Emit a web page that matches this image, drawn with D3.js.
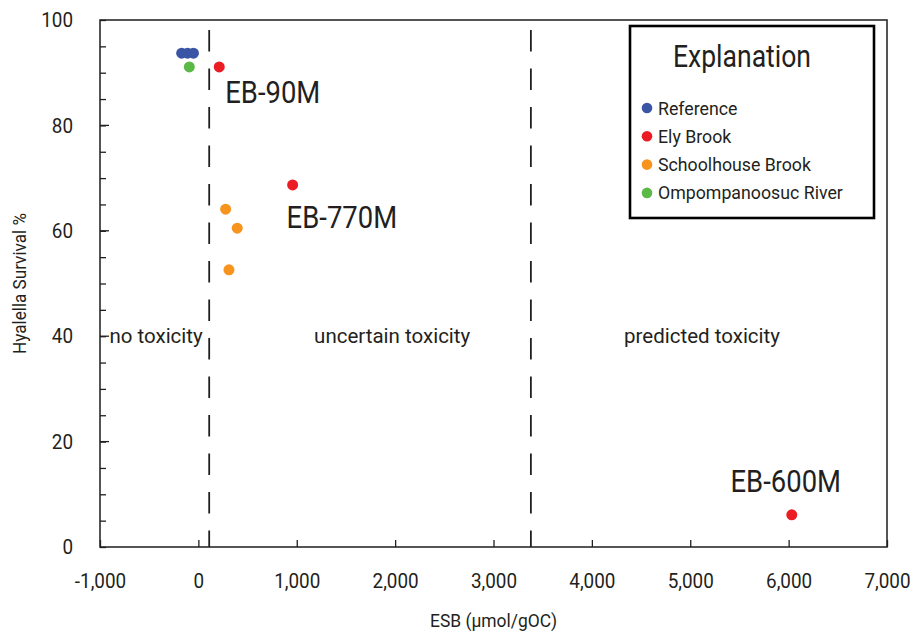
<!DOCTYPE html>
<html>
<head>
<meta charset="utf-8">
<script src="https://cdn.jsdelivr.net/npm/d3@7/dist/d3.min.js"></script>
<style>
  html, body { margin: 0; padding: 0; background: #fff; }
  svg { display: block; }
  text { font-family: "Roboto", "Liberation Sans", sans-serif; fill: #231f20; }
</style>
</head>
<body>
<svg id="chart" width="914" height="635"></svg>
<script>
// Sample groups and their colours
const seriesNames = ["Reference", "Ely Brook", "Schoolhouse Brook", "Ompompanoosuc River"];
const seriesColors = ["#3b55a6", "#ec1c24", "#f7941d", "#5bb947"];

// ESB (µmol/gOC) and Hyalella survival (%) per group
const referenceESB = [-170, -110, -50];
const referenceSurvival = [93.7, 93.7, 93.7];
const elyBrookESB = [212, 958, 6032];
const elyBrookSurvival = [91.1, 68.7, 6.1];
const schoolhouseESB = [277, 395, 311];
const schoolhouseSurvival = [64.1, 60.5, 52.6];
const ompompanoosucESB = [-92];
const ompompanoosucSurvival = [91.1];

// Ely Brook site names
const elySiteNames = ["EB-90M", "EB-770M", "EB-600M"];

// Toxicity thresholds and zone labels
const thresholdESB = [110, 3380];
const zoneNames = ["no toxicity", "uncertain toxicity", "predicted toxicity"];
const zoneESB = [-430, 1970, 5120];
const zoneSurvival = 40;

// Axis ticks
const xTickValues = [-1000, 0, 1000, 2000, 3000, 4000, 5000, 6000, 7000];
const yTickValues = [0, 20, 40, 60, 80, 100];
const yMinorTickValues = d3.range(0, 101, 5);

const svg = d3.select("#chart");
const margin = { left: 100, top: 20, right: 27, bottom: 88 };
const W = 914, H = 635;

const x = d3.scaleLinear().domain([-1000, 7000]).range([margin.left, W - margin.right]);
const y = d3.scaleLinear().domain([0, 100]).range([H - margin.bottom, margin.top]);

// Thousands separator with a plain hyphen for negatives
const commaFormat = d3.format(",");
const xTickFormat = d => commaFormat(d).replace("\u2212", "-");

// Narrow the glyphs horizontally around each text's own anchor point
function condense(sel, sx) {
  sel.attr("transform", function () {
    const tx = +this.getAttribute("x") || 0, ty = +this.getAttribute("y") || 0;
    return `translate(${tx},${ty}) scale(${sx},1) translate(${-tx},${-ty})`;
  });
}

const groups = [
  { esb: referenceESB, surv: referenceSurvival },
  { esb: elyBrookESB, surv: elyBrookSurvival },
  { esb: schoolhouseESB, surv: schoolhouseSurvival },
  { esb: ompompanoosucESB, surv: ompompanoosucSurvival }
];
const points = [];
groups.forEach((g, i) => g.esb.forEach((v, j) => points.push({ esb: v, surv: g.surv[j], series: i })));

// Plot frame
svg.append("rect")
  .attr("x", x(-1000)).attr("y", y(100))
  .attr("width", x(7000) - x(-1000)).attr("height", y(0) - y(100))
  .attr("fill", "none").attr("stroke", "#2b2b2b").attr("stroke-width", 1.6);

// Axes with inward ticks
const xAxis = svg.append("g")
  .attr("transform", `translate(0,${y(0)})`)
  .call(d3.axisBottom(x).tickValues(xTickValues).tickSize(-7).tickPadding(26)
    .tickFormat(xTickFormat));
xAxis.select(".domain").remove();
xAxis.selectAll("line").attr("stroke", "#231f20").attr("stroke-width", 1.3);
xAxis.selectAll("text").attr("font-size", 21).attr("fill", "#231f20").call(condense, 0.9);

const yMinor = svg.append("g")
  .attr("transform", `translate(${x(-1000)},0)`)
  .call(d3.axisRight(y).tickValues(yMinorTickValues).tickSize(6).tickFormat(""));
yMinor.select(".domain").remove();
yMinor.selectAll("line").attr("stroke", "#231f20").attr("stroke-width", 1.3);

const yAxis = svg.append("g")
  .attr("transform", `translate(${x(-1000)},0)`)
  .call(d3.axisLeft(y).tickValues(yTickValues).tickSize(0).tickPadding(27));
yAxis.select(".domain").remove();
yAxis.selectAll("text").attr("font-size", 21).attr("fill", "#231f20").call(condense, 0.9);
svg.append("g").selectAll("line").data(yTickValues.filter(d => d > 0 && d < 100)).join("line")
  .attr("x1", x(-1000)).attr("x2", x(-1000) + 9)
  .attr("y1", d => y(d)).attr("y2", d => y(d))
  .attr("stroke", "#231f20").attr("stroke-width", 1.3);

// Axis titles
svg.append("text")
  .attr("x", (x(-1000) + x(7000)) / 2).attr("y", 627)
  .attr("text-anchor", "middle").attr("font-size", 18)
  .text("ESB (µmol/gOC)")
  .call(condense, 0.97);
svg.append("text")
  .attr("transform", `translate(26,${(y(0) + y(100)) / 2}) rotate(-90) scale(0.95,1)`)
  .attr("text-anchor", "middle").attr("font-size", 18)
  .text("Hyalella Survival %");

// Threshold lines
svg.append("g").selectAll("line").data(thresholdESB).join("line")
  .attr("x1", d => x(d)).attr("x2", d => x(d))
  .attr("y1", y(100)).attr("y2", y(0))
  .attr("stroke", "#231f20").attr("stroke-width", 1.8)
  .attr("stroke-dasharray", "21.5,17")
  .attr("stroke-dashoffset", 28.5);

// Zone labels
svg.append("g").selectAll("text").data(zoneNames).join("text")
  .attr("x", (d, i) => x(zoneESB[i])).attr("y", y(zoneSurvival) + 7)
  .attr("text-anchor", "middle").attr("font-size", 20.5)
  .text(d => d);

// Points
svg.append("g").selectAll("circle").data(points).join("circle")
  .attr("cx", d => x(d.esb)).attr("cy", d => y(d.surv))
  .attr("r", 5.5)
  .attr("fill", d => seriesColors[d.series]);

// Ely Brook site labels
const siteOffsets = [
  { dx: 6, dy: 36, anchor: "start" },
  { dx: -6, dy: 43, anchor: "start" },
  { dx: -6, dy: -23, anchor: "middle" }
];
svg.append("g").selectAll("text").data(elySiteNames).join("text")
  .attr("x", (d, i) => x(elyBrookESB[i]) + siteOffsets[i].dx)
  .attr("y", (d, i) => y(elyBrookSurvival[i]) + siteOffsets[i].dy)
  .attr("text-anchor", (d, i) => siteOffsets[i].anchor)
  .attr("font-size", 30.5)
  .text(d => d)
  .call(condense, 0.9);

// Legend
const legend = svg.append("g").attr("transform", "translate(630,26)");
legend.append("rect")
  .attr("width", 244).attr("height", 192)
  .attr("fill", "#fff").attr("stroke", "#000").attr("stroke-width", 2.6);
legend.append("text")
  .attr("x", 112).attr("y", 41)
  .attr("text-anchor", "middle").attr("font-size", 30.5)
  .text("Explanation")
  .call(condense, 0.87);
const rows = legend.selectAll("g.row").data(seriesNames).join("g")
  .attr("class", "row")
  .attr("transform", (d, i) => `translate(0,${82 + i * 28.3})`);
rows.append("circle").attr("cx", 17).attr("cy", 0).attr("r", 5.3)
  .attr("fill", (d, i) => seriesColors[i]);
rows.append("text").attr("x", 28).attr("y", 6.5).attr("font-size", 18.7)
  .text(d => d)
  .call(condense, 0.95);
</script>
</body>
</html>
